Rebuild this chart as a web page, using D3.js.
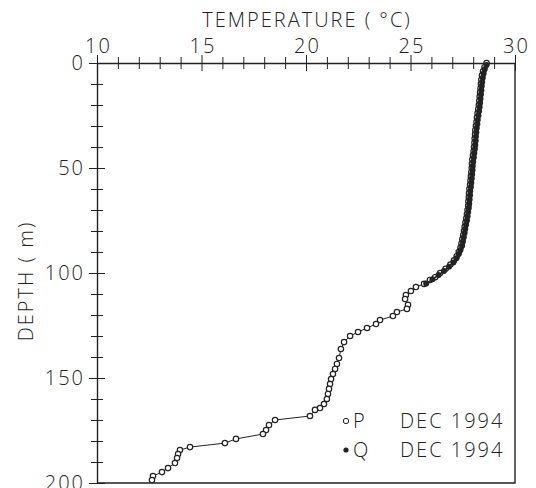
<!DOCTYPE html>
<html>
<head>
<meta charset="utf-8">
<script src="https://cdn.jsdelivr.net/npm/d3@7"></script>
<style>
  body { margin: 0; background: #fff; }
  svg text { font-family: "Open Sans", "DejaVu Sans", sans-serif; font-weight: 300; fill: #222; letter-spacing: 2px; }
</style>
</head>
<body>
<div id="chart"></div>
<script>
// temperature profile, station P (open circles)
const pDepth = [0,2,4,6,8,10,12,14,16,18,20,22,24,26,28,30,32,34,36,38,40,42,44,46,48,50,
  52,54,56,58,60,62,64,66,68,70,72,74,76,78,80,82,84,86,88,90,92,94,96,98,100,
  102,103.3,105.2,106.7,108.6,110.5,112.4,115.2,117.1,118.6,120.5,122.4,124.3,126.2,128.1,130,
  132.9,136.2,140.5,143.3,145.7,148.1,150.5,152.9,155.2,157.6,160,162.4,164.3,165.2,168.1,
  170,172.4,174.8,176.7,179,181,182.9,184.3,186.2,188.1,190.5,192.9,194.8,196.7,198.6];
const pTemp = [28.64,28.54,28.47,28.42,28.39,28.37,28.35,28.33,28.31,28.29,28.27,28.24,28.21,28.18,28.16,28.13,28.1,28.09,28.07,28.06,28.04,28.02,27.99,27.96,27.94,27.93,
  27.91,27.89,27.87,27.85,27.82,27.8,27.79,27.77,27.76,27.73,27.7,27.67,27.63,27.59,27.56,27.52,27.48,27.44,27.39,27.31,27.21,27.08,26.91,26.68,26.42,
  26.18,25.93,25.65,25.26,25.02,24.78,24.74,24.88,24.83,24.35,24.16,23.54,23.35,22.92,22.49,22.11,
  21.82,21.67,21.58,21.48,21.39,21.29,21.2,21.15,21.1,21.05,21.0,20.86,20.67,20.43,20.19,
  18.52,18.23,18.09,17.94,16.65,16.12,14.45,13.97,13.88,13.83,13.73,13.4,13.11,12.68,12.63];

// station Q (filled dots)
const qDepth = [1,3,5,7,9,11,13,15,17,19,21,23,25,27,29,31,33,35,37,39,41,43,45,47,49,51,
  53,55,57,59,61,63,65,67,69,71,73,75,77,79,81,83,85,87,89,91,93,95,97,99,101,103,105];
const qTemp = [28.64,28.55,28.5,28.46,28.43,28.41,28.39,28.37,28.35,28.33,28.31,28.28,28.25,28.22,28.2,28.17,28.15,28.13,28.12,28.1,28.08,28.05,28.03,28.0,27.98,27.97,
  27.95,27.93,27.91,27.89,27.86,27.85,27.83,27.81,27.79,27.76,27.73,27.7,27.66,27.62,27.59,27.55,27.51,27.47,27.39,27.31,27.2,27.05,26.84,26.6,26.34,26.05,25.75];

const tempTicks = [10,15,20,25,30];
const depthTicks = [0,50,100,150,200];
const legendLabels = ["P", "Q"];
const legendDate = "DEC 1994";

const W = 536, H = 488;
const svg = d3.select("#chart").append("svg").attr("width", W).attr("height", H);

const x = d3.scaleLinear().domain([10, 30]).range([97, 515]);
const y = d3.scaleLinear().domain([0, 200]).range([63, 483]);
const ink = "#222";
const fs = 20;

// frame (right and bottom)
svg.append("path")
  .attr("d", `M${x(30)},${y(0)}V${y(200)}H${x(10)}`)
  .attr("fill", "none").attr("stroke", ink).attr("stroke-width", 1.4);

// top axis: minor ticks every degree, crossing the line
const topAxis = svg.append("g").attr("transform", `translate(0,${y(0)})`)
  .call(d3.axisTop(x).tickValues(d3.range(10, 31, 1)).tickFormat("").tickSizeOuter(0));
topAxis.selectAll(".tick line").attr("y1", -6).attr("y2", 6);
topAxis.selectAll(".tick").filter(d => d % 5 === 0).select("line").attr("y1", -8).attr("y2", 8);
topAxis.select(".domain").attr("stroke-width", 1.4);
topAxis.selectAll("line,.domain").attr("stroke", ink);

const topLab = svg.append("g").attr("transform", `translate(1,${y(0)})`)
  .call(d3.axisTop(x).tickValues(tempTicks).tickSize(0).tickPadding(10));
topLab.select(".domain").remove();
topLab.selectAll("text").attr("font-size", fs).style("fill", ink);

// left axis: minor ticks every 10 m
const leftAxis = svg.append("g").attr("transform", `translate(${x(10)},0)`)
  .call(d3.axisLeft(y).tickValues(d3.range(0, 201, 10)).tickFormat("").tickSizeOuter(0));
leftAxis.selectAll(".tick line").attr("x1", -6).attr("x2", 6);
leftAxis.selectAll(".tick").filter(d => d % 50 === 0).select("line").attr("x1", -8).attr("x2", 8);
leftAxis.select(".domain").attr("stroke-width", 1.4);
leftAxis.selectAll("line,.domain").attr("stroke", ink);

const leftLab = svg.append("g").attr("transform", `translate(${x(10) + 2},0)`)
  .call(d3.axisLeft(y).tickValues(depthTicks).tickSize(0).tickPadding(14));
leftLab.select(".domain").remove();
leftLab.selectAll("text").attr("font-size", fs).style("fill", ink);

// axis titles
svg.append("text").attr("x", (x(10) + x(30)) / 2 + 1).attr("y", 27)
  .attr("text-anchor", "middle").attr("font-size", fs).text("TEMPERATURE ( °C)");
svg.append("text").attr("transform", `translate(33,${(y(0) + y(200)) / 2 + 8}) rotate(-90)`)
  .attr("text-anchor", "middle").attr("font-size", fs).text("DEPTH ( m)");

// profiles
const line = d3.line().x(d => x(d.t)).y(d => y(d.d));
const pData = pDepth.map((d, i) => ({ d, t: pTemp[i] }));
const qData = qDepth.map((d, i) => ({ d, t: qTemp[i] }));

const plot = svg.append("g");
plot.append("path").datum(pData).attr("d", line)
  .attr("fill", "none").attr("stroke", ink).attr("stroke-width", 1);
plot.selectAll(".p").data(pData).enter().append("circle")
  .attr("class", "p")
  .attr("cx", d => x(d.t)).attr("cy", d => y(d.d)).attr("r", 2.7)
  .attr("fill", "#fff").attr("stroke", ink).attr("stroke-width", 1.2);

plot.append("path").datum(qData).attr("d", line)
  .attr("fill", "none").attr("stroke", ink).attr("stroke-width", 1.5);
plot.selectAll(".q").data(qData).enter().append("circle")
  .attr("class", "q")
  .attr("cx", d => x(d.t)).attr("cy", d => y(d.d)).attr("r", 3)
  .attr("fill", ink);

// legend
const leg = svg.append("g");
const rows = [428, 457];
legendLabels.forEach((lab, i) => {
  const g = leg.append("g").attr("transform", `translate(0,${rows[i]})`);
  if (i === 0) {
    g.append("circle").attr("cx", 346).attr("cy", -7).attr("r", 2.7)
      .attr("fill", "#fff").attr("stroke", ink).attr("stroke-width", 1);
  } else {
    g.append("circle").attr("cx", 346).attr("cy", -7).attr("r", 2.6).attr("fill", ink);
  }
  g.append("text").attr("x", 353).attr("y", 0).attr("font-size", fs).text(lab);
  g.append("text").attr("x", 400).attr("y", 0).attr("font-size", fs).text(legendDate);
});
</script>
</body>
</html>
